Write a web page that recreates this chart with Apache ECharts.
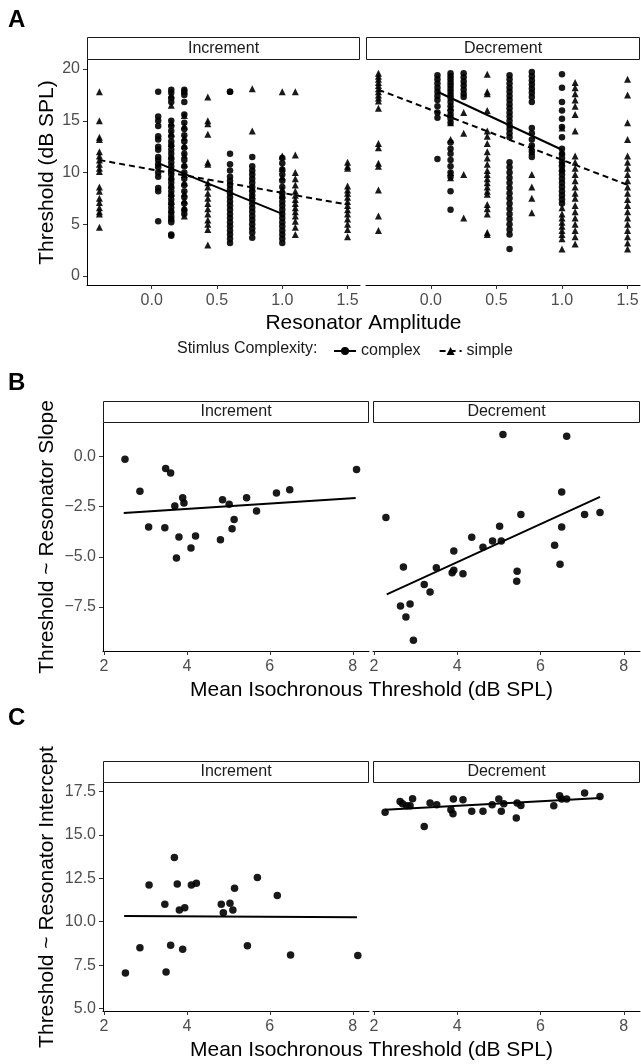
<!DOCTYPE html>
<html><head><meta charset="utf-8">
<script src="https://cdn.jsdelivr.net/npm/echarts@6/dist/echarts.min.js"></script>
<style>html,body{margin:0;padding:0;background:#fff}#c{width:641px;height:1064px}</style>
</head><body><div id="c"></div><script>
// ---------- Panel A : threshold vs resonator amplitude ----------
const ampTicks = [0, 0.5, 1.0, 1.5];
const thrTicks = [0, 5, 10, 15, 20];
const facetNames = ['Increment', 'Decrement'];

const incComplexX = [0.05, 0.15, 0.25, 0.6, 0.77, 1.0];
const incComplexY = [
  [17.8, 15.4, 15.0, 14.5, 13.5, 13.2, 12.5, 12.2, 11.5, 11.2, 10.8, 10.5, 10.0, 9.6, 8.5, 8.2, 5.3],
  [18.0, 17.7, 17.2, 16.8, 15.0, 14.5, 14.0, 13.5, 13.0, 12.6, 12.2, 11.8, 11.4, 11.0, 10.6, 10.2, 9.8, 9.4, 9.0, 8.6, 8.2, 7.8, 7.4, 7.0, 6.6, 6.2, 5.8, 5.5, 5.2, 4.0, 3.9],
  [18.0, 17.8, 17.5, 16.8, 15.6, 14.8, 14.2, 13.6, 13.0, 12.4, 11.8, 11.2, 10.6, 10.0, 9.4, 8.8, 8.2, 7.6, 7.0, 6.4, 6.0],
  [17.8, 17.8, 11.8, 10.8, 10.2, 9.6, 9.2, 8.8, 8.4, 8.0, 7.6, 7.2, 6.8, 6.4, 6.0, 5.6, 5.2, 4.8, 4.4, 4.0, 3.6, 3.2],
  [11.5, 10.6, 10.2, 9.8, 9.4, 9.0, 8.6, 8.2, 7.8, 7.4, 7.0, 6.6, 6.2, 5.8, 5.4, 5.0, 4.6, 4.2, 3.7],
  [11.4, 10.9, 10.3, 9.8, 9.2, 8.6, 8.0, 7.6, 7.2, 6.8, 6.4, 6.0, 5.6, 5.2, 4.8, 4.4, 4.0, 3.6, 3.2]
];
const incSimpleX = [-0.4, 0.15, 0.25, 0.43, 0.77, 1.0, 1.1, 1.5];
const incSimpleY = [
  [17.8, 15.0, 13.4, 13.2, 12.0, 11.6, 11.2, 10.8, 10.4, 10.1, 8.6, 8.2, 7.5, 7.1, 6.6, 6.2, 6.0, 4.7],
  [17.5, 16.5, 14.8, 13.8, 12.8, 11.6, 10.4, 9.6, 8.8, 8.0, 7.2, 6.4, 5.6],
  [17.9, 15.5, 14.5, 13.4, 12.6, 11.7, 10.8, 9.8, 9.0, 8.0, 7.3, 6.6, 5.8],
  [17.3, 15.0, 14.7, 13.7, 11.0, 10.8, 9.0, 8.6, 8.0, 7.5, 7.0, 6.5, 6.0, 5.4, 5.0, 4.5, 3.0],
  [18.1, 14.0, 8.5, 7.8],
  [17.8, 11.6, 10.4, 9.6, 8.4, 7.8],
  [17.8, 11.7, 10.0, 9.4, 8.8, 8.2, 7.8, 7.4, 7.0, 6.6, 6.2, 5.8, 5.3, 4.7, 4.0],
  [11.0, 10.6, 10.4, 8.7, 8.3, 8.0, 7.6, 7.2, 6.8, 6.4, 6.0, 5.5, 5.0, 4.5, 3.8]
];
const decComplexX = [0.05, 0.15, 0.25, 0.6, 0.77, 1.0];
const decComplexY = [
  [19.4, 19.0, 18.6, 18.2, 17.8, 17.4, 17.0, 16.4, 15.8, 15.3, 11.3],
  [19.6, 19.3, 19.0, 18.7, 18.4, 18.1, 17.8, 17.5, 17.2, 16.8, 16.4, 16.0, 15.6, 15.2, 14.8, 12.9, 12.3, 11.8, 11.2, 10.6, 10.0, 9.6, 8.2, 6.4],
  [19.6, 19.2, 18.8, 18.4, 18.0, 17.6, 17.3],
  [19.4, 19.0, 18.6, 18.2, 17.8, 17.4, 17.0, 16.6, 16.2, 15.8, 15.4, 15.0, 14.6, 14.2, 13.8, 13.4, 11.0, 10.5, 10.0, 9.5, 9.0, 8.5, 8.0, 7.5, 7.0, 6.5, 6.0, 5.5, 5.0, 4.5, 4.0, 2.6],
  [19.7, 19.3, 18.9, 18.5, 18.1, 17.7, 17.3, 16.8, 14.3, 13.8, 13.2, 12.6, 12.0, 11.5],
  [19.5, 18.2, 16.8, 16.0, 15.2, 14.4, 13.4, 12.3, 11.8, 11.4, 11.0, 10.6, 10.2, 9.8, 9.4, 9.0, 8.6, 8.2, 7.8, 7.4, 7.0]
];
const decSimpleX = [-0.4, 0.15, 0.25, 0.43, 0.77, 1.0, 1.1, 1.5];
const decSimpleY = [
  [19.6, 19.3, 19.0, 18.7, 18.4, 18.1, 17.8, 17.5, 17.2, 16.9, 16.2, 12.8, 12.4, 10.9, 10.6, 8.3, 5.8, 4.4],
  [16.3, 15.6, 14.8, 13.2, 10.0, 9.5],
  [15.8, 13.8, 9.8, 5.6],
  [19.5, 17.8, 17.6, 16.0, 14.0, 13.5, 12.8, 12.0, 11.4, 10.8, 10.2, 9.8, 9.4, 9.0, 8.6, 8.2, 7.9, 6.9, 6.5, 6.0, 4.2, 4.0],
  [12.5, 12.0, 9.8, 8.6, 7.5, 6.1],
  [14.3, 12.0, 11.0, 10.4, 6.6, 6.0, 5.6, 5.2, 4.8, 4.4, 4.0, 3.6, 2.6],
  [18.7, 18.2, 17.6, 17.0, 16.4, 15.6, 14.0, 11.6, 11.0, 10.4, 9.8, 9.2, 8.6, 8.0, 7.5, 6.8, 6.2, 5.6, 5.0, 4.4, 3.8, 3.1],
  [19.0, 17.5, 14.8, 13.2, 11.6, 11.0, 10.4, 9.8, 9.2, 8.6, 8.0, 7.4, 6.8, 6.2, 5.6, 5.0, 4.4, 3.8, 3.2, 2.6]
];
// fitted lines (end points)
const fitIncComplexA = [[0.05, 10.9], [1.0, 6.0]];
const fitIncSimpleA = [[-0.4, 11.2], [1.5, 6.9]];
const fitDecComplexA = [[0.05, 17.8], [1.0, 12.2]];
const fitDecSimpleA = [[-0.4, 18.0], [1.5, 8.8]];

// ---------- Panel B : slope vs mean isochronous threshold ----------
const isoTicks = [2, 4, 6, 8];
const slopeTicks = [-7.5, -5, -2.5, 0];
const slopeIncX = [2.51, 2.87, 3.08, 3.49, 3.61, 3.47, 3.71, 3.81, 3.75, 3.90, 3.93, 4.10, 4.21, 4.81, 4.86, 5.02, 5.09, 5.14, 5.44, 5.68, 6.16, 6.48, 8.09];
const slopeIncY = [-0.15, -1.74, -3.52, -0.61, -0.83, -3.55, -2.47, -4.01, -5.06, -2.06, -2.32, -4.56, -3.96, -4.15, -2.16, -2.39, -3.60, -3.15, -2.06, -2.72, -1.83, -1.66, -0.66];
const slopeDecX = [5.10, 6.63, 2.29, 6.51, 5.53, 7.06, 7.43, 5.02, 6.51, 4.35, 4.62, 4.85, 5.06, 6.34, 3.92, 2.71, 3.50, 3.92, 3.88, 4.14, 6.47, 5.44, 5.43, 3.21, 3.35, 2.64, 2.87, 2.77, 2.95];
const slopeDecY = [1.09, 1.00, -3.05, -1.78, -2.89, -2.90, -2.80, -3.48, -3.52, -4.03, -4.53, -4.21, -4.21, -4.43, -4.71, -5.51, -5.54, -5.67, -5.80, -5.84, -5.37, -5.72, -6.22, -6.38, -6.75, -7.45, -7.35, -8.00, -9.15];
const fitSlopeInc = [[2.48, -2.82], [8.07, -2.07]];
const fitSlopeDec = [[2.31, -6.87], [7.43, -2.02]];

// ---------- Panel C : intercept vs mean isochronous threshold ----------
const interTicks = [5, 7.5, 10, 12.5, 15, 17.5];
const interIncX = [2.52, 2.87, 3.09, 3.47, 3.50, 3.61, 3.70, 3.77, 3.82, 3.95, 3.90, 4.11, 4.23, 4.83, 4.88, 5.04, 5.11, 5.15, 5.46, 5.70, 6.18, 6.50, 8.12];
const interIncY = [7.05, 8.50, 12.11, 11.00, 7.11, 8.65, 13.69, 12.17, 10.67, 10.80, 8.42, 12.11, 12.21, 11.00, 10.52, 11.06, 10.67, 11.92, 8.61, 12.54, 11.50, 8.08, 8.06];
const interDecX = [2.27, 2.63, 2.69, 2.79, 2.87, 2.93, 3.21, 3.35, 3.51, 3.85, 3.90, 3.91, 4.14, 4.35, 4.62, 4.84, 5.00, 5.06, 5.12, 5.42, 5.44, 5.53, 6.32, 6.46, 6.51, 6.63, 7.06, 7.43];
const interDecY = [16.29, 16.92, 16.79, 16.67, 16.67, 17.08, 15.48, 16.83, 16.73, 16.44, 16.21, 17.06, 17.02, 16.35, 16.35, 16.73, 17.06, 16.35, 16.79, 15.96, 16.83, 16.69, 16.67, 17.25, 17.06, 17.06, 17.41, 17.21];
const fitInterInc = [[2.49, 10.33], [8.10, 10.25]];
const fitInterDec = [[2.27, 16.44], [7.44, 17.12]];

// ---------- layout ----------
const FONT = '"Liberation Sans", Arial, sans-serif';
const grids = [
  {left: 87, top: 60, width: 273, height: 225},
  {left: 366, top: 60, width: 274, height: 225},
  {left: 103, top: 423, width: 266, height: 228},
  {left: 373, top: 423, width: 267, height: 228},
  {left: 103, top: 783, width: 266, height: 228},
  {left: 373, top: 783, width: 267, height: 228}
];
const stripH = [23, 23, 22, 22, 22, 22];
const xRanges = [[-0.495, 1.595], [-0.495, 1.595], [1.98, 8.39], [1.98, 8.39], [1.98, 8.39], [1.98, 8.39]];
const yRanges = [[-0.87, 20.87], [-0.87, 20.87], [-9.69, 1.66], [-9.69, 1.66], [4.86, 17.98], [4.86, 17.98]];
const xTickSets = [ampTicks, ampTicks, isoTicks, isoTicks, isoTicks, isoTicks];
const yTickSets = [thrTicks, thrTicks, slopeTicks, slopeTicks, interTicks, interTicks];
const xFmt = [v => v.toFixed(1), v => v.toFixed(1), v => String(v), v => String(v), v => String(v), v => String(v)];
const yFmt = [v => String(v), null, v => v.toFixed(1).replace('-', '\u2212'), null, v => v.toFixed(1), null];

const cols = (xs, ys) => xs.flatMap((x, i) => ys[i].map(y => [x, y]));
const pairs = (xs, ys) => xs.map((x, i) => [x, ys[i]]);

const xAxes = grids.map((g, i) => ({
  gridIndex: i, type: 'value', min: xRanges[i][0], max: xRanges[i][1],
  axisLine: {show: true, onZero: false, lineStyle: {color: '#000', width: 1}},
  axisTick: {show: true, length: 4, customValues: xTickSets[i], lineStyle: {color: '#333', width: 1}},
  axisLabel: {show: true, customValues: xTickSets[i], formatter: xFmt[i], fontSize: 16, color: '#4d4d4d', fontFamily: FONT, margin: 8},
  splitLine: {show: false}
}));
const yAxes = grids.map((g, i) => {
  const left = i % 2 === 0;
  return {
    gridIndex: i, type: 'value', min: yRanges[i][0], max: yRanges[i][1],
    axisLine: {show: left, onZero: false, lineStyle: {color: '#000', width: 1}},
    axisTick: {show: left, length: 4, customValues: yTickSets[i], lineStyle: {color: '#333', width: 1}},
    axisLabel: {show: left, customValues: yTickSets[i], formatter: yFmt[i] || (v => ''), fontSize: 16, color: '#4d4d4d', fontFamily: FONT, margin: 7},
    splitLine: {show: false}
  };
});

const pt = (name, data, idx, symbol, size) => ({
  name, type: 'scatter', xAxisIndex: idx, yAxisIndex: idx, data, symbol, symbolSize: size,
  itemStyle: {color: '#000', opacity: 0.9}, z: 2, silent: true
});
const fit = (name, data, idx, dashed, symbol) => ({
  name, type: 'line', xAxisIndex: idx, yAxisIndex: idx, data, showSymbol: false, symbol, symbolSize: 6,
  lineStyle: {color: '#000', width: 2, type: dashed ? [6, 4] : 'solid'}, itemStyle: {color: '#000'}, z: 5, silent: true
});

const series = [
  fit('complex', fitIncComplexA, 0, false, 'circle'),
  fit('simple', fitIncSimpleA, 0, true, 'triangle'),
  pt('complex pts', cols(incComplexX, incComplexY), 0, 'circle', 6.5),
  pt('simple pts', cols(incSimpleX, incSimpleY), 0, 'triangle', 7),
  pt('complex pts', cols(decComplexX, decComplexY), 1, 'circle', 6.5),
  pt('simple pts', cols(decSimpleX, decSimpleY), 1, 'triangle', 7),
  fit('complex', fitDecComplexA, 1, false, 'circle'),
  fit('simple', fitDecSimpleA, 1, true, 'triangle'),
  pt('slope inc', pairs(slopeIncX, slopeIncY), 2, 'circle', 7.5),
  fit('slope inc fit', fitSlopeInc, 2, false, 'none'),
  pt('slope dec', pairs(slopeDecX, slopeDecY), 3, 'circle', 7.5),
  fit('slope dec fit', fitSlopeDec, 3, false, 'none'),
  pt('inter inc', pairs(interIncX, interIncY), 4, 'circle', 7.5),
  fit('inter inc fit', fitInterInc, 4, false, 'none'),
  pt('inter dec', pairs(interDecX, interDecY), 5, 'circle', 7.5),
  fit('inter dec fit', fitInterDec, 5, false, 'none')
];

const graphics = [];
grids.forEach((g, i) => {
  const h = stripH[i];
  graphics.push({type: 'rect', shape: {x: g.left + 0.5, y: g.top - h + 0.5, width: g.width - 1, height: h - 1},
    style: {fill: '#fff', stroke: '#1a1a1a', lineWidth: 1}, z: 10});
  graphics.push({type: 'text', x: g.left + g.width / 2, y: g.top - h / 2,
    style: {text: facetNames[i % 2], fontSize: 16, fontFamily: FONT, fill: '#1a1a1a', textAlign: 'center', textVerticalAlign: 'middle'}, z: 11});
});
const letters = [['A', 20], ['B', 383], ['C', 718]];
letters.forEach(([t, y]) => graphics.push({type: 'text', x: 8, y,
  style: {text: t, fontSize: 24, fontWeight: 'bold', fontFamily: FONT, fill: '#000', textVerticalAlign: 'middle'}}));
const yTitles = [['Threshold (dB SPL)', 0], ['Threshold ~ Resonator Slope', 2], ['Threshold ~ Resonator Intercept', 4]];
yTitles.forEach(([t, gi]) => graphics.push({type: 'text', x: 47, y: grids[gi].top + grids[gi].height / 2, rotation: Math.PI / 2,
  style: {text: t, fontSize: 21, fontFamily: FONT, fill: '#000', textAlign: 'center', textVerticalAlign: 'middle'}}));
const xTitles = [['Resonator Amplitude', 0, 323], ['Mean Isochronous Threshold (dB SPL)', 2, 690], ['Mean Isochronous Threshold (dB SPL)', 4, 1050]];
xTitles.forEach(([t, gi, y]) => {
  const l = grids[gi].left, r = grids[gi + 1].left + grids[gi + 1].width;
  graphics.push({type: 'text', x: (l + r) / 2, y,
    style: {text: t, fontSize: 21, fontFamily: FONT, fill: '#000', textAlign: 'center', textVerticalAlign: 'middle'}});
});
graphics.push({type: 'text', x: 177, y: 349,
  style: {text: 'Stimlus Complexity:', fontSize: 16, fontFamily: FONT, fill: '#1a1a1a', textVerticalAlign: 'middle'}});

const chart = echarts.init(document.getElementById('c'), null, {renderer: 'canvas'});
chart.setOption({
  animation: false,
  backgroundColor: '#fff',
  grid: grids.map(g => Object.assign({outerBoundsMode: 'none', containLabel: false}, g)),
  xAxis: xAxes,
  yAxis: yAxes,
  legend: {data: ['complex', 'simple'], left: 328, top: 338, itemWidth: 22, itemHeight: 10, itemGap: 18,
    textStyle: {fontSize: 16, color: '#1a1a1a', fontFamily: FONT}, selectedMode: false},
  tooltip: {show: false},
  series,
  graphic: graphics
});
</script></body></html>
